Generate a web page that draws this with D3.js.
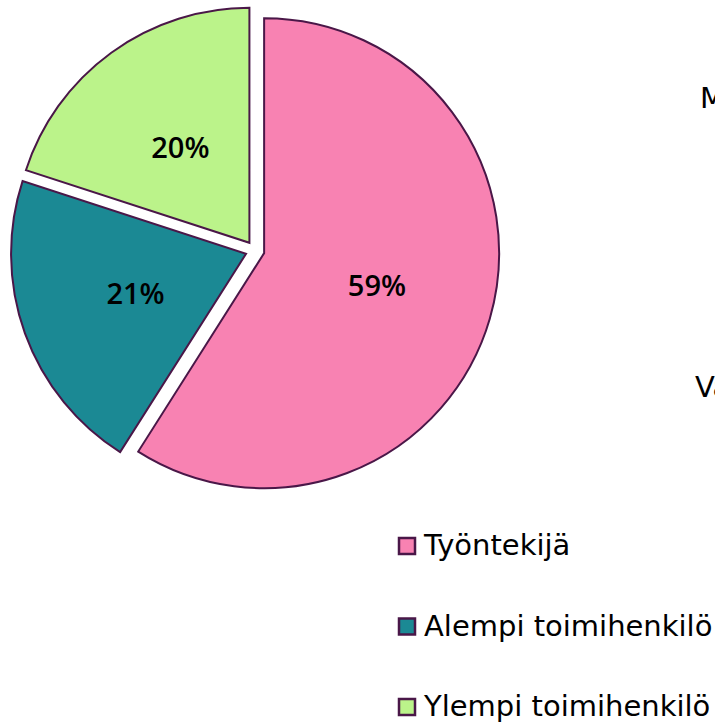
<!DOCTYPE html>
<html>
<head>
<meta charset="utf-8">
<script src="https://cdn.jsdelivr.net/npm/d3@7"></script>
<style>
  html, body { margin: 0; padding: 0; background: #fff; overflow: hidden; }
  svg { display: block; }
</style>
</head>
<body>
<svg id="chart" width="715" height="725"></svg>
<script>
const categories = ["Työntekijä", "Alempi toimihenkilö", "Ylempi toimihenkilö"];
const values = [59, 21, 20];
const labels = ["59%", "21%", "20%"];
const colors = ["#F882B2", "#1B8994", "#BBF38A"];
const strayTexts = [{ t: "M", x: 700, y: 108 }, { t: "Va", x: 695, y: 397 }];

const svg = d3.select("#chart");
const cx = 255, cy = 250.5, r = 235, explode = 9.5;
const stroke = "#4A1748";

const pie = d3.pie().sort(null).value(d => d)(values);
const arc = d3.arc().innerRadius(0).outerRadius(r);
const labelArc = d3.arc().innerRadius(r / 2).outerRadius(r / 2);

const g = svg.append("g").attr("transform", `translate(${cx},${cy})`);
const slices = g.selectAll("g.slice").data(pie).enter().append("g")
  .attr("class", "slice")
  .attr("transform", d => {
    const a = (d.startAngle + d.endAngle) / 2;
    return `translate(${explode * Math.sin(a)},${-explode * Math.cos(a)})`;
  });

slices.append("path")
  .attr("d", arc)
  .attr("fill", (d, i) => colors[i])
  .attr("stroke", stroke)
  .attr("stroke-width", 2)
  .attr("stroke-linejoin", "miter");

slices.append("text")
  .attr("transform", d => `translate(${labelArc.centroid(d)})`)
  .attr("text-anchor", "middle")
  .attr("dy", "0.36em")
  .attr("font-family", "'Open Sans', sans-serif")
  .attr("font-weight", 600)
  .attr("font-size", 29)
  .attr("fill", "#000")
  .text((d, i) => labels[i]);

// Legend
const legendX = 398, legendY0 = 546, legendStep = 80.5;
const leg = svg.append("g");
categories.forEach((c, i) => {
  const y = legendY0 + i * legendStep;
  leg.append("rect")
    .attr("x", legendX + 1).attr("y", y - 8)
    .attr("width", 16).attr("height", 16)
    .attr("fill", colors[i])
    .attr("stroke", stroke).attr("stroke-width", 2.5);
  leg.append("text")
    .attr("x", 424).attr("y", y + 9)
    .attr("font-family", "'DejaVu Sans', sans-serif")
    .attr("font-size", 29)
    .attr("fill", "#000")
    .text(c);
});

strayTexts.forEach(s => {
  svg.append("text")
    .attr("x", s.x).attr("y", s.y)
    .attr("font-family", "'DejaVu Sans', sans-serif")
    .attr("font-size", 29)
    .attr("fill", "#000")
    .text(s.t);
});
</script>
</body>
</html>
